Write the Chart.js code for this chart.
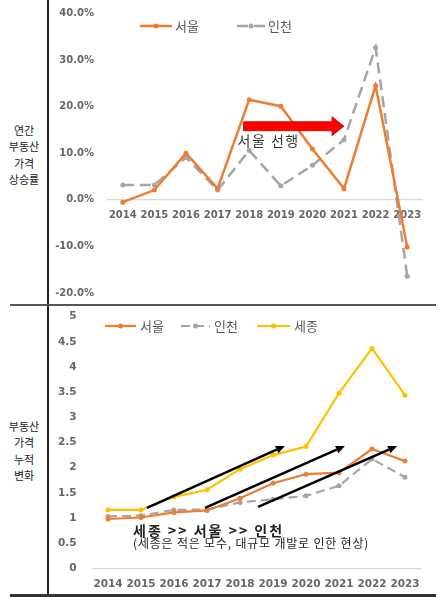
<!DOCTYPE html>
<html>
<head>
<meta charset="utf-8">
<script src="https://cdn.jsdelivr.net/npm/chart.js@4.4.1/dist/chart.umd.min.js"></script>
<style>
  html, body { margin: 0; padding: 0; background: #fff; }
  body { width: 445px; height: 597px; position: relative; overflow: hidden; font-family: "Noto Sans CJK KR", sans-serif; }
  .box { position: absolute; }
  #topBox { left: 50px; top: 0; width: 395px; height: 303px; }
  #bottomBox { left: 50px; top: 307px; width: 395px; height: 287px; }
  .side { position: absolute; left: 0; width: 48px; text-align: center; font-size: 11px; line-height: 16.3px; color: #222; }
  .vline { position: absolute; left: 47px; top: 0; width: 2px; height: 597px; background: #222; }
  .hline { position: absolute; left: 10px; width: 426px; background: #555; }
</style>
</head>
<body>
<div class="vline"></div>
<div class="hline" style="top:304px;height:2px;"></div>
<div class="hline" style="top:594px;height:2.5px;background:#333;"></div>
<div class="side" style="top:122px;">연간<br>부동산<br>가격<br>상승률</div>
<div class="side" style="top:418px;">부동산<br>가격<br>누적<br>변화</div>
<div class="box" id="topBox"><canvas id="rateChart"></canvas></div>
<div class="box" id="bottomBox"><canvas id="cumChart"></canvas></div>
<script>
// years on the x axis (both charts)
const years = ['2014', '2015', '2016', '2017', '2018', '2019', '2020', '2021', '2022', '2023'];

// annual price change, %
const seoulRate = [-0.5, 2.1, 10.0, 2.4, 21.5, 20.1, 10.9, 2.4, 24.5, -10.1];
const incheonRate = [3.2, 3.2, 9.1, 2.1, 10.6, 3.0, 7.4, 12.9, 32.7, -16.4];

// cumulative change (2014 = ~1)
const seoulCum = [0.98, 1.01, 1.11, 1.15, 1.39, 1.69, 1.87, 1.90, 2.37, 2.13];
const incheonCum = [1.03, 1.05, 1.16, 1.17, 1.31, 1.37, 1.44, 1.64, 2.17, 1.81];
const sejongCum = [1.16, 1.16, 1.42, 1.56, 1.97, 2.25, 2.42, 3.48, 4.37, 3.44];

const ORANGE = '#ED7D31';
const GREY = '#A5A5A5';
const YELLOW = '#FFC000';
const TICK = '#666666';

// legend: line + dot + label, drawn at fixed spots in the chart
const lineLegend = {
    id: 'lineLegend',
    afterDraw(chart, args, opts) {
        const ctx = chart.ctx;
        ctx.save();
        chart.data.datasets.forEach((ds, i) => {
            const it = opts.items[i];
            ctx.strokeStyle = ds.borderColor;
            ctx.lineWidth = ds.borderWidth;
            ctx.setLineDash(ds.borderDash || []);
            ctx.beginPath();
            ctx.moveTo(it.x, opts.y);
            ctx.lineTo(it.x + it.w, opts.y);
            ctx.stroke();
            ctx.setLineDash([]);
            ctx.fillStyle = ds.borderColor;
            ctx.beginPath();
            ctx.arc(it.x + it.w / 2, opts.y, 2.5, 0, Math.PI * 2);
            ctx.fill();
            ctx.fillStyle = opts.color;
            ctx.font = opts.font;
            ctx.textBaseline = 'middle';
            ctx.fillText(ds.label, it.x + it.w + opts.gap, opts.y);
        });
        ctx.restore();
    }
};

// arrows and notes, placed in data coordinates
const notes = {
    id: 'notes',
    afterDatasetsDraw(chart, args, opts) {
        const {ctx, scales: {x, y}} = chart;
        ctx.save();
        (opts.blockArrows || []).forEach(a => {
            const x0 = x.getPixelForValue(a.from), x1 = x.getPixelForValue(a.to);
            const yc = y.getPixelForValue(a.y);
            const hx = x1 - a.head;
            ctx.beginPath();
            ctx.moveTo(x0, yc - a.shaft / 2);
            ctx.lineTo(hx, yc - a.shaft / 2);
            ctx.lineTo(hx, yc - a.headH / 2);
            ctx.lineTo(x1, yc);
            ctx.lineTo(hx, yc + a.headH / 2);
            ctx.lineTo(hx, yc + a.shaft / 2);
            ctx.lineTo(x0, yc + a.shaft / 2);
            ctx.closePath();
            ctx.fillStyle = a.color;
            ctx.fill();
            ctx.strokeStyle = a.edge;
            ctx.lineWidth = 0.8;
            ctx.stroke();
        });
        (opts.arrows || []).forEach(a => {
            const x0 = x.getPixelForValue(a.from[0]), y0 = y.getPixelForValue(a.from[1]);
            const x1 = x.getPixelForValue(a.to[0]), y1 = y.getPixelForValue(a.to[1]);
            const ang = Math.atan2(y1 - y0, x1 - x0);
            const len = 9, half = 4;
            const bx = x1 - len * Math.cos(ang), by = y1 - len * Math.sin(ang);
            ctx.strokeStyle = a.color;
            ctx.lineWidth = 2.5;
            ctx.beginPath();
            ctx.moveTo(x0, y0);
            ctx.lineTo(bx, by);
            ctx.stroke();
            ctx.fillStyle = a.color;
            ctx.beginPath();
            ctx.moveTo(x1, y1);
            ctx.lineTo(bx + half * Math.sin(ang), by - half * Math.cos(ang));
            ctx.lineTo(bx - half * Math.sin(ang), by + half * Math.cos(ang));
            ctx.closePath();
            ctx.fill();
        });
        (opts.texts || []).forEach(t => {
            ctx.font = t.font;
            ctx.fillStyle = t.color;
            ctx.letterSpacing = t.spacing || '0px';
            ctx.textAlign = 'left';
            ctx.textBaseline = 'middle';
            ctx.fillText(t.text, x.getPixelForValue(t.x), y.getPixelForValue(t.y));
        });
        ctx.restore();
    }
};

const zeroLine = ctx => ctx.tick.value === 0 ? '#D9D9D9' : 'rgba(0,0,0,0)';

// fixed y-axis width, and no extra top/bottom padding from the tick labels
const fitY = w => s => { s.width = w; s.paddingTop = 0; s.paddingBottom = 0; };

new Chart(document.getElementById('rateChart'), {
    type: 'line',
    data: {
        labels: years,
        datasets: [{
            label: '서울',
            data: seoulRate,
            borderColor: ORANGE,
            backgroundColor: ORANGE,
            pointBackgroundColor: ORANGE,
            borderWidth: 2.5,
            pointRadius: 2.5,
            pointBorderWidth: 0
        }, {
            label: '인천',
            data: incheonRate,
            borderColor: GREY,
            backgroundColor: GREY,
            pointBackgroundColor: GREY,
            borderDash: [11, 6],
            borderWidth: 2.5,
            pointRadius: 2.5,
            pointBorderWidth: 0
        }]
    },
    options: {
        responsive: true,
        maintainAspectRatio: false,
        animation: false,
        layout: { padding: { top: 13.5, right: 22, bottom: 10, left: 0 } },
        plugins: {
            legend: { display: false },
            tooltip: { enabled: false },
            lineLegend: {
                y: 26, gap: 3, color: '#595959', font: '13px "Noto Sans CJK KR"',
                items: [{ x: 90, w: 32 }, { x: 187, w: 28 }]
            },
            notes: {
                blockArrows: [{ from: 3.82, to: 7.0, y: 15.8, shaft: 9, headH: 19, head: 12, color: '#FF0000', edge: '#C00000' }],
                texts: [{ text: '서울 선행', x: 3.63, y: 12.8, font: '14px "Noto Sans CJK KR"', color: '#333', spacing: '1.5px' }]
            }
        },
        scales: {
            x: {
                position: { y: 0 },
                offset: true,
                afterFit: s => { s.height = 0; },
                grid: { display: false, drawTicks: false },
                border: { display: false },
                ticks: { color: TICK, padding: 10, maxRotation: 0, minRotation: 0, autoSkip: false, font: { family: 'DejaVu Sans', size: 10, weight: 'bold' } }
            },
            y: {
                min: -20,
                max: 40,
                afterFit: fitY(57),
                grid: { color: zeroLine, drawTicks: false, lineWidth: 1.2 },
                border: { display: false },
                ticks: {
                    stepSize: 10,
                    padding: 13,
                    color: TICK,
                    font: { family: 'DejaVu Sans', size: 10, weight: 'bold' },
                    callback: v => v.toFixed(1) + '%'
                }
            }
        }
    },
    plugins: [lineLegend, notes]
});

new Chart(document.getElementById('cumChart'), {
    type: 'line',
    data: {
        labels: years,
        datasets: [{
            label: '서울',
            data: seoulCum,
            borderColor: ORANGE,
            backgroundColor: ORANGE,
            pointBackgroundColor: ORANGE,
            borderWidth: 2.2,
            pointRadius: 2.5,
            pointBorderWidth: 0
        }, {
            label: '인천',
            data: incheonCum,
            borderColor: GREY,
            backgroundColor: GREY,
            pointBackgroundColor: GREY,
            borderDash: [9, 5],
            borderWidth: 2.2,
            pointRadius: 2.5,
            pointBorderWidth: 0
        }, {
            label: '세종',
            data: sejongCum,
            borderColor: YELLOW,
            backgroundColor: YELLOW,
            pointBackgroundColor: YELLOW,
            borderWidth: 2.2,
            pointRadius: 2.5,
            pointBorderWidth: 0
        }]
    },
    options: {
        responsive: true,
        maintainAspectRatio: false,
        animation: false,
        layout: { padding: { top: 9.7, right: 23.5, bottom: 0, left: 0 } },
        plugins: {
            legend: { display: false },
            tooltip: { enabled: false },
            lineLegend: {
                y: 19, gap: 4, color: '#595959', font: '13px "Noto Sans CJK KR"',
                items: [{ x: 55, w: 31 }, { x: 131, w: 29 }, { x: 207, w: 33 }]
            },
            notes: {
                arrows: [
                    { from: [1.18, 1.20], to: [5.36, 2.43], color: '#000' },
                    { from: [2.94, 1.20], to: [7.18, 2.43], color: '#000' },
                    { from: [4.55, 1.22], to: [8.76, 2.43], color: '#000' }
                ],
                texts: [
                    { text: '세종 >> 서울 >> 인천', x: 0.76, y: 0.74, font: 'bold 14px "Noto Sans CJK KR"', color: '#222', spacing: '2px' },
                    { text: '(세종은 적은 모수, 대규모 개발로 인한 현상)', x: 0.76, y: 0.50, font: '12px "Noto Sans CJK KR"', color: '#222', spacing: '0.8px' }
                ]
            }
        },
        scales: {
            x: {
                offset: true,
                afterFit: s => { s.height = 25.7; },
                grid: { display: false, drawTicks: false },
                border: { display: false },
                ticks: { color: TICK, padding: 10, maxRotation: 0, autoSkip: false, font: { family: 'DejaVu Sans', size: 10.5, weight: 'bold' } }
            },
            y: {
                min: 0,
                max: 5,
                afterFit: fitY(41.5),
                grid: { color: zeroLine, drawTicks: false, lineWidth: 1.2 },
                border: { display: false },
                ticks: {
                    stepSize: 0.5,
                    padding: 15,
                    color: TICK,
                    font: { family: 'DejaVu Sans', size: 10.5, weight: 'bold' },
                    callback: v => String(v)
                }
            }
        }
    },
    plugins: [lineLegend, notes]
});
</script>
</body>
</html>
